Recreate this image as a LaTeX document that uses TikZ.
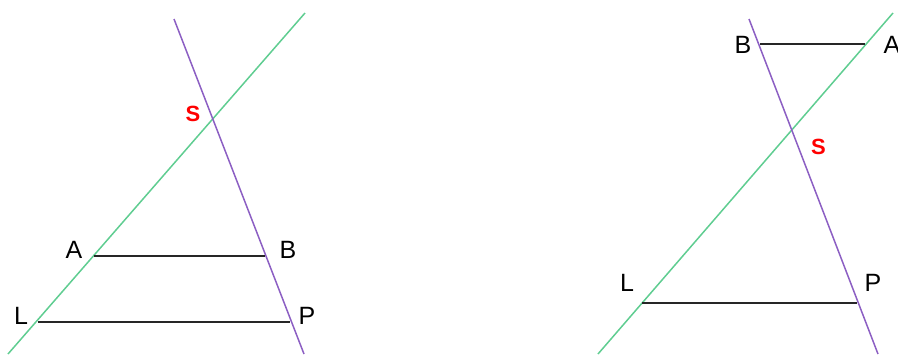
\documentclass[tikz,border=0pt]{standalone}
\usepackage{fontspec}
\setmainfont{Liberation Sans}
\usetikzlibrary{calc}
\definecolor{linegreen}{RGB}{95,205,145}
\definecolor{linepurple}{RGB}{140,95,195}
\begin{document}
\begin{tikzpicture}[x=1pt,y=-1pt,font=\fontsize{25}{25}\selectfont,
  gline/.style={linegreen,line width=1.5pt},
  pline/.style={linepurple,line width=1.5pt},
  seg/.style={black!85,line width=1.5pt},
  slabel/.style={red,font=\fontsize{22}{22}\selectfont\bfseries}]
\useasboundingbox (0,0) rectangle (898,354);
% left figure
\coordinate (gl1) at (8,354);
\coordinate (gl2) at (305,13);
\coordinate (pl1) at (174,19);
\coordinate (pl2) at (304,354);
\coordinate (Al) at (94,256);
\coordinate (Bl) at (265,256);
\coordinate (Ll) at (38,322);
\coordinate (Pl) at (290,322);
\draw[gline] (gl1) -- (gl2);
\draw[pline] (pl1) -- (pl2);
\draw[seg] (Al) -- (Bl);
\draw[seg] (Ll) -- (Pl);
\node[slabel] (Sl) at (193,113.5) {S};
\node (Al text) at (74,250) {A};
\node (Bl text) at (288,250) {B};
\node (Ll text) at (21,315.5) {L};
\node (Pl text) at (307,315.5) {P};
% right figure
\coordinate (gr1) at (598,354);
\coordinate (gr2) at (893,13);
\coordinate (pr1) at (749,19);
\coordinate (pr2) at (878,354);
\coordinate (Br) at (760,44);
\coordinate (Ar) at (865,44);
\coordinate (Lr) at (642,303);
\coordinate (Pr) at (857,303);
\draw[gline] (gr1) -- (gr2);
\draw[pline] (pr1) -- (pr2);
\draw[seg] (Br) -- (Ar);
\draw[seg] (Lr) -- (Pr);
\node[slabel] (Sr) at (818.5,146.5) {S};
\node (Br text) at (743,45) {B};
\node (Ar text) at (892,45) {A};
\node (Lr text) at (627,282.5) {L};
\node (Pr text) at (873,282.5) {P};
\end{tikzpicture}
\end{document}
